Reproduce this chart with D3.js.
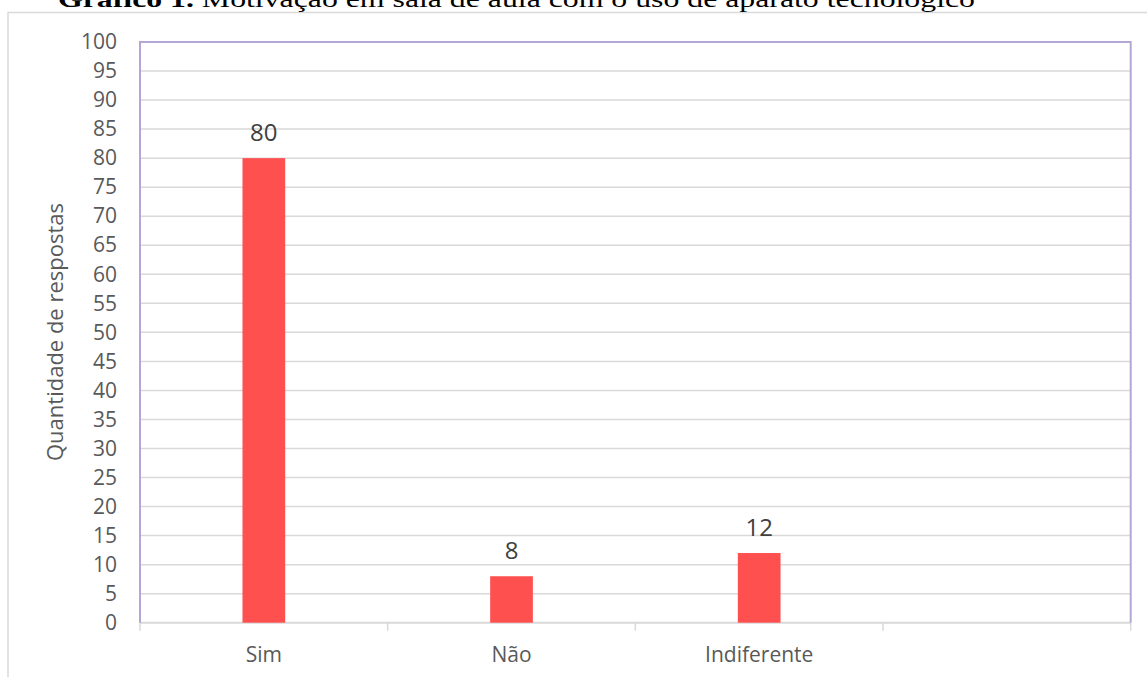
<!DOCTYPE html>
<html>
<head>
<meta charset="utf-8">
<script src="https://cdn.jsdelivr.net/npm/d3@7"></script>
<style>
  html, body { margin: 0; padding: 0; background: #ffffff; }
  svg { display: block; }
</style>
</head>
<body>
<svg id="chart" width="1147" height="677"></svg>
<script>
// Respostas por categoria
const categories = ["Sim", "Não", "Indiferente", ""];
const values = [80, 8, 12, null];
const yTicks = d3.range(0, 101, 5);
const titleBold = "Gráfico 1.";
const titleRest = " Motivação em sala de aula com o uso de aparato tecnológico";
const yTitle = "Quantidade de respostas";

const W = 1147, H = 677;
const plot = { left: 140, top: 42, right: 1130.7, bottom: 622.7 };

const svg = d3.select("#chart");

// moldura externa
svg.append("path")
  .attr("d", `M8,${H + 5} L8,12.5 L${W + 5},12.5`)
  .attr("fill", "none")
  .attr("stroke", "#d9d9d9")
  .attr("stroke-width", 1.5);

// título (parcialmente acima da moldura)
const title = svg.append("text")
  .attr("x", 58)
  .attr("y", 7)
  .attr("font-family", "'Liberation Serif', 'DejaVu Serif', serif")
  .attr("font-size", 23)
  .attr("fill", "#000")
  .attr("textLength", 917)
  .attr("lengthAdjust", "spacingAndGlyphs");
title.append("tspan").attr("font-weight", "bold").text(titleBold);
title.append("tspan").text(titleRest);

const x = d3.scaleBand()
  .domain(categories.map((c, i) => i))
  .range([plot.left, plot.right])
  .paddingInner(0)
  .paddingOuter(0);

const y = d3.scaleLinear()
  .domain([0, 100])
  .range([plot.bottom, plot.top]);

// linhas de grade horizontais
svg.append("g")
  .selectAll("line")
  .data(yTicks.filter(t => t > 0 && t < 100))
  .join("line")
  .attr("x1", plot.left)
  .attr("x2", plot.right)
  .attr("y1", d => y(d))
  .attr("y2", d => y(d))
  .attr("stroke", "#d9d9d9")
  .attr("stroke-width", 1.5);

// eixo Y (rótulos)
const yAxis = d3.axisLeft(y).tickValues(yTicks).tickSize(0).tickPadding(23);
const gy = svg.append("g")
  .attr("transform", `translate(${plot.left},0)`)
  .call(yAxis);
gy.select(".domain").remove();
gy.selectAll("text")
  .attr("font-family", "'Open Sans', sans-serif")
  .attr("font-size", 21)
  .attr("fill", "#595959");

// eixo X: linha base e marcas entre categorias
svg.append("line")
  .attr("x1", plot.left)
  .attr("x2", plot.right)
  .attr("y1", plot.bottom)
  .attr("y2", plot.bottom)
  .attr("stroke", "#d9d9d9")
  .attr("stroke-width", 2);

const boundaries = categories.map((c, i) => x(i)).concat([plot.right]);
svg.append("g")
  .selectAll("line")
  .data(boundaries)
  .join("line")
  .attr("x1", d => d)
  .attr("x2", d => d)
  .attr("y1", plot.bottom)
  .attr("y2", plot.bottom + 8)
  .attr("stroke", "#d9d9d9")
  .attr("stroke-width", 1.5);

svg.append("g")
  .selectAll("text")
  .data(categories)
  .join("text")
  .attr("x", (d, i) => x(i) + x.bandwidth() / 2)
  .attr("y", 662)
  .attr("text-anchor", "middle")
  .attr("font-family", "'Open Sans', sans-serif")
  .attr("font-size", 21)
  .attr("fill", "#595959")
  .text(d => d);

// borda da área de plotagem (esquerda, topo, direita)
svg.append("path")
  .attr("d", `M${plot.left},${plot.bottom} L${plot.left},${plot.top} L${plot.right},${plot.top} L${plot.right},${plot.bottom}`)
  .attr("fill", "none")
  .attr("stroke", "#b4a7d6")
  .attr("stroke-width", 2);

// barras
const barW = x.bandwidth() * 0.1725;
const data = categories.map((c, i) => ({ i, c, v: values[i] })).filter(d => d.v != null);

svg.append("g")
  .selectAll("rect")
  .data(data)
  .join("rect")
  .attr("x", d => x(d.i) + x.bandwidth() / 2 - barW / 2)
  .attr("y", d => y(d.v))
  .attr("width", barW)
  .attr("height", d => y(0) - y(d.v))
  .attr("fill", "#ff5050");

// rótulos de valor
svg.append("g")
  .selectAll("text")
  .data(data)
  .join("text")
  .attr("x", d => x(d.i) + x.bandwidth() / 2)
  .attr("y", d => y(d.v) - 17)
  .attr("text-anchor", "middle")
  .attr("font-family", "'Open Sans', sans-serif")
  .attr("font-size", 24)
  .attr("fill", "#404040")
  .text(d => d.v);

// título do eixo Y
svg.append("text")
  .attr("transform", `translate(63,332) rotate(-90)`)
  .attr("text-anchor", "middle")
  .attr("font-family", "'Open Sans', sans-serif")
  .attr("font-size", 22)
  .attr("fill", "#595959")
  .text(yTitle);
</script>
</body>
</html>
